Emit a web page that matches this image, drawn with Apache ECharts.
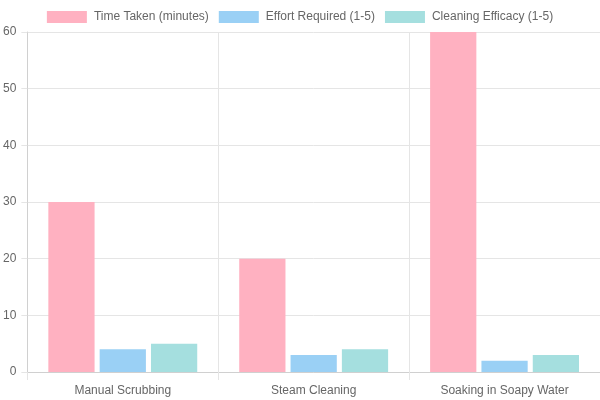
<!DOCTYPE html>
<html><head><meta charset="utf-8">
<script src="https://cdn.jsdelivr.net/npm/echarts@6/dist/echarts.min.js"></script>
<style>html,body{margin:0;padding:0;background:#fff}#c{width:600px;height:400px}</style>
</head><body><div id="c"></div>
<script>
const categories = ["Manual Scrubbing", "Steam Cleaning", "Soaking in Soapy Water"];
const timeTaken = [30, 20, 60];
const effortRequired = [4, 3, 2];
const cleaningEfficacy = [5, 4, 3];
const seriesNames = ["Time Taken (minutes)", "Effort Required (1-5)", "Cleaning Efficacy (1-5)"];
const colors = ["#FFB1C1", "#9AD0F5", "#A5DFDF"];

const chart = echarts.init(document.getElementById('c'), null, {renderer: 'canvas'});
const font = "'Liberation Sans', Arial, Helvetica, sans-serif";
const mk = (name, data, i) => ({
  name, type: 'bar', data,
  barGap: '11%', barCategoryGap: '22%',
  itemStyle: {color: colors[i]},
  emphasis: {disabled: true}
});
chart.setOption({
  animation: false,
  textStyle: {fontFamily: font},
  legend: {
    top: 6, left: 'center', itemWidth: 40, itemHeight: 12, itemGap: 10,
    textStyle: {color: '#666', fontSize: 12, fontFamily: font, padding: [0, 0, 0, 2]},
    icon: 'rect',
    data: seriesNames
  },
  grid: {left: 27, right: 0, top: 32, bottom: 28, containLabel: false},
  xAxis: {
    type: 'category', data: categories,
    axisLine: {show: true, lineStyle: {color: '#d0d0d0'}},
    axisTick: {show: true, length: 8, lineStyle: {color: '#e5e5e5'}},
    splitLine: {show: true, lineStyle: {color: '#e5e5e5'}},
    axisLabel: {color: '#666', fontSize: 12, margin: 13, fontFamily: font}
  },
  yAxis: {
    type: 'value', min: 0, max: 60, interval: 10,
    axisLine: {show: true, lineStyle: {color: '#d0d0d0'}},
    axisTick: {show: true, length: 6, lineStyle: {color: '#e5e5e5'}},
    splitLine: {show: true, lineStyle: {color: '#e5e5e5'}},
    axisLabel: {color: '#666', fontSize: 12, margin: 11, fontFamily: font}
  },
  series: [
    mk(seriesNames[0], timeTaken, 0),
    mk(seriesNames[1], effortRequired, 1),
    mk(seriesNames[2], cleaningEfficacy, 2)
  ]
});
</script></body></html>
